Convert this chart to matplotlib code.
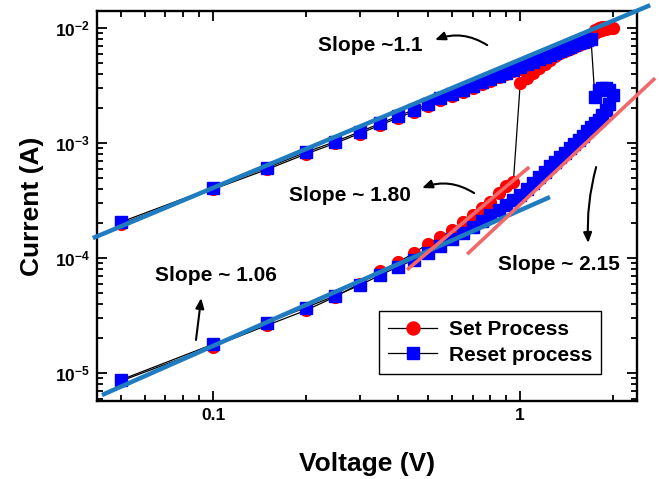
import matplotlib
matplotlib.use('Agg')
import matplotlib.pyplot as plt
from matplotlib.ticker import FixedLocator, NullFormatter, LogLocator

plt.rcParams['font.family'] = ['Liberation Sans', 'DejaVu Sans']
plt.rcParams['font.weight'] = 'bold'
plt.rcParams['mathtext.fontset'] = 'custom'
plt.rcParams['mathtext.rm'] = 'Liberation Sans:bold'
plt.rcParams['mathtext.it'] = 'Liberation Sans:bold'
plt.rcParams['mathtext.bf'] = 'Liberation Sans:bold'
plt.rcParams['mathtext.default'] = 'rm'

# ---------------- data ----------------
# Set process: forward sweep 0.05 -> 2.0 V, then backward 1.95 -> 0.05 V
set_v = [0.05, 0.10, 0.15, 0.20, 0.25, 0.30, 0.35, 0.40, 0.45, 0.50,
         0.55, 0.60, 0.65, 0.70, 0.75, 0.80, 0.85, 0.90, 0.95, 1.00,
         1.05, 1.10, 1.15, 1.20, 1.25, 1.30, 1.35, 1.40, 1.45, 1.50,
         1.55, 1.60, 1.65, 1.70, 1.75, 1.80, 1.85, 1.90, 1.95, 2.00,
         1.95, 1.90, 1.85, 1.80, 1.75, 1.70, 1.65, 1.60, 1.55, 1.50,
         1.45, 1.40, 1.35, 1.30, 1.25, 1.20, 1.15, 1.10, 1.05, 1.00,
         0.95, 0.90, 0.85, 0.80, 0.75, 0.70, 0.65, 0.60, 0.55, 0.50,
         0.45, 0.40, 0.35, 0.30, 0.25, 0.20, 0.15, 0.10, 0.05]
set_i = [8.5e-6, 1.7e-5, 2.6e-5, 3.5e-5, 4.6e-5, 6.0e-5, 7.7e-5, 9.2e-5, 1.10e-4, 1.33e-4,
         1.52e-4, 1.75e-4, 2.05e-4, 2.36e-4, 2.72e-4, 3.10e-4, 3.65e-4, 4.25e-4, 4.55e-4, 3.30e-3,
         3.65e-3, 4.05e-3, 4.45e-3, 4.90e-3, 5.30e-3, 5.75e-3, 6.15e-3, 6.45e-3, 6.70e-3, 6.95e-3,
         7.20e-3, 7.45e-3, 7.80e-3, 8.40e-3, 9.60e-3, 1.00e-2, 1.02e-2, 1.02e-2, 1.02e-2, 1.01e-2,
         1.00e-2, 9.80e-3, 9.60e-3, 9.40e-3, 9.00e-3, 7.85e-3, 7.60e-3, 7.35e-3, 7.10e-3, 6.85e-3,
         6.60e-3, 6.37e-3, 6.12e-3, 5.88e-3, 5.65e-3, 5.40e-3, 5.16e-3, 4.92e-3, 4.68e-3, 4.44e-3,
         4.20e-3, 3.96e-3, 3.72e-3, 3.48e-3, 3.25e-3, 3.02e-3, 2.80e-3, 2.57e-3, 2.36e-3, 2.10e-3,
         1.87e-3, 1.66e-3, 1.43e-3, 1.21e-3, 9.95e-4, 8.0e-4, 5.9e-4, 3.96e-4, 1.98e-4]

# Reset process: forward sweep 0.05 -> 2.0 V, then backward 1.95 -> 0.05 V
reset_v = [0.05, 0.10, 0.15, 0.20, 0.25, 0.30, 0.35, 0.40, 0.45, 0.50,
           0.55, 0.60, 0.65, 0.70, 0.75, 0.80, 0.85, 0.90, 0.95, 1.00,
           1.05, 1.10, 1.15, 1.20, 1.25, 1.30, 1.35, 1.40, 1.45, 1.50,
           1.55, 1.60, 1.65, 1.70, 1.75, 1.80, 1.85, 1.90, 1.95, 2.00,
           1.95, 1.90, 1.85, 1.80, 1.75, 1.70, 1.65, 1.60, 1.55, 1.50,
           1.45, 1.40, 1.35, 1.30, 1.25, 1.20, 1.15, 1.10, 1.05, 1.00,
           0.95, 0.90, 0.85, 0.80, 0.75, 0.70, 0.65, 0.60, 0.55, 0.50,
           0.45, 0.40, 0.35, 0.30, 0.25, 0.20, 0.15, 0.10, 0.05]
reset_i = [2.05e-4, 4.1e-4, 6.1e-4, 8.3e-4, 1.03e-3, 1.25e-3, 1.48e-3, 1.72e-3, 1.94e-3, 2.18e-3,
           2.44e-3, 2.66e-3, 2.90e-3, 3.13e-3, 3.37e-3, 3.60e-3, 3.85e-3, 4.10e-3, 4.35e-3, 4.60e-3,
           4.85e-3, 5.10e-3, 5.35e-3, 5.60e-3, 5.85e-3, 6.10e-3, 6.35e-3, 6.60e-3, 6.85e-3, 7.10e-3,
           7.35e-3, 7.60e-3, 7.85e-3, 8.10e-3, 2.50e-3, 2.90e-3, 3.00e-3, 3.00e-3, 2.90e-3, 2.60e-3,
           2.20e-3, 1.95e-3, 1.75e-3, 1.60e-3, 1.48e-3, 1.37e-3, 1.26e-3, 1.16e-3, 1.07e-3, 9.8e-4,
           9.0e-4, 8.2e-4, 7.5e-4, 6.9e-4, 6.3e-4, 5.65e-4, 5.05e-4, 4.5e-4, 4.0e-4, 3.55e-4,
           3.2e-4, 2.9e-4, 2.6e-4, 2.35e-4, 2.1e-4, 1.88e-4, 1.65e-4, 1.45e-4, 1.27e-4, 1.1e-4,
           9.6e-5, 8.4e-5, 7.1e-5, 5.8e-5, 4.7e-5, 3.7e-5, 2.75e-5, 1.78e-5, 8.7e-6]

# fitted slope lines (end points)
fit_lrs_v = [0.0406, 2.65]
fit_lrs_i = [1.49e-4, 1.58e-2]
fit_hrs_v = [0.0435, 1.25]
fit_hrs_i = [6.44e-6, 3.39e-4]
fit_set_v = [0.428, 1.07]
fit_set_i = [7.9e-5, 6.18e-4]
fit_reset_v = [0.672, 2.75]
fit_reset_i = [1.08e-4, 3.67e-3]

xtick_vals = [0.1, 1]
xtick_labels = ['0.1', '1']
ytick_vals = [1e-5, 1e-4, 1e-3, 1e-2]
ytick_labels = ['$10^{-5}$', '$10^{-4}$', '$10^{-3}$', '$10^{-2}$']

# ---------------- figure ----------------
fig = plt.figure(figsize=(6.59, 4.79), dpi=100)
ax = fig.add_axes([0.1472, 0.1628, 0.8194, 0.8142])
ax.set_xscale('log')
ax.set_yscale('log')

ax.plot(set_v, set_i, '-', color='black', lw=0.9, marker='o', ms=8.5,
        mfc='#ff0000', mec='#ff0000', label='Set Process', zorder=2)
ax.plot(reset_v, reset_i, '-', color='black', lw=0.9, marker='s', ms=8,
        mfc='#0000ff', mec='#0000ff', label='Reset process', zorder=3)

fit_blue = '#1f7cc0'
fit_red = '#f26868'
ax.plot(fit_lrs_v, fit_lrs_i, color=fit_blue, lw=3.2, clip_on=False, zorder=5,
        solid_capstyle='butt')
ax.plot(fit_hrs_v, fit_hrs_i, color=fit_blue, lw=3.2, clip_on=False, zorder=5,
        solid_capstyle='butt')
ax.plot(fit_set_v, fit_set_i, color=fit_red, lw=2.6, zorder=6, solid_capstyle='butt')
ax.plot(fit_reset_v, fit_reset_i, color=fit_red, lw=2.6, clip_on=False, zorder=6,
        solid_capstyle='butt')

ax.set_xlim(0.0419, 2.40)
ax.set_ylim(5.71e-6, 1.406e-2)

ax.xaxis.set_major_locator(FixedLocator(xtick_vals))
ax.set_xticklabels(xtick_labels)
ax.yaxis.set_major_locator(FixedLocator(ytick_vals))
ax.set_yticklabels(ytick_labels)
ax.xaxis.set_minor_locator(LogLocator(base=10, subs=[2, 3, 4, 5, 6, 7, 8, 9], numticks=20))
ax.yaxis.set_minor_locator(LogLocator(base=10, subs=[2, 3, 4, 5, 6, 7, 8, 9], numticks=20))
ax.xaxis.set_minor_formatter(NullFormatter())
ax.yaxis.set_minor_formatter(NullFormatter())

ax.tick_params(which='both', direction='in', top=True, right=True, width=1.3)
ax.tick_params(which='major', length=7, labelsize=12.5, pad=5)
ax.tick_params(which='minor', length=4)
for s in ax.spines.values():
    s.set_linewidth(1.7)

ax.set_xlabel('Voltage (V)', fontsize=19, fontweight='bold', labelpad=21)
ax.set_ylabel('Current (A)', fontsize=19, fontweight='bold', labelpad=8)

# annotations
tfs = 15
ax.text(0.324, 7.1e-3, 'Slope ~1.1', ha='center', va='center', fontsize=tfs, fontweight='bold')
ax.text(0.279, 3.53e-4, 'Slope ~ 1.80', ha='center', va='center', fontsize=tfs, fontweight='bold')
ax.text(1.34, 8.7e-5, 'Slope ~ 2.15', ha='center', va='center', fontsize=tfs, fontweight='bold')
ax.text(0.102, 6.98e-5, 'Slope ~ 1.06', ha='center', va='center', fontsize=tfs, fontweight='bold')

arr = dict(arrowstyle='-|>,head_length=0.6,head_width=0.25', color='black', lw=1.5,
           shrinkA=0, shrinkB=0)
ax.annotate('', xy=(0.528, 7.87e-3), xytext=(0.781, 7.1e-3),
            arrowprops=dict(arr, connectionstyle='arc3,rad=0.25'))
ax.annotate('', xy=(0.479, 4.06e-4), xytext=(0.708, 3.67e-4),
            arrowprops=dict(arr, connectionstyle='arc3,rad=0.25'))
ax.annotate('', xy=(1.665, 1.35e-4), xytext=(1.767, 6.18e-4),
            arrowprops=dict(arr, connectionstyle='arc3,rad=0.08'))
ax.annotate('', xy=(0.0915, 4.49e-5), xytext=(0.088, 1.94e-5),
            arrowprops=dict(arr, connectionstyle='arc3,rad=0'))

leg = ax.legend(loc='lower left', bbox_to_anchor=(0.522, 0.069), frameon=True,
                fancybox=False, edgecolor='black', framealpha=1, fontsize=15,
                handlelength=2.35, handletextpad=0.55, borderpad=0.45,
                labelspacing=0.3, borderaxespad=0, markerscale=1.1)
leg.get_frame().set_linewidth(1.0)

fig.savefig('out.png', dpi=100)
